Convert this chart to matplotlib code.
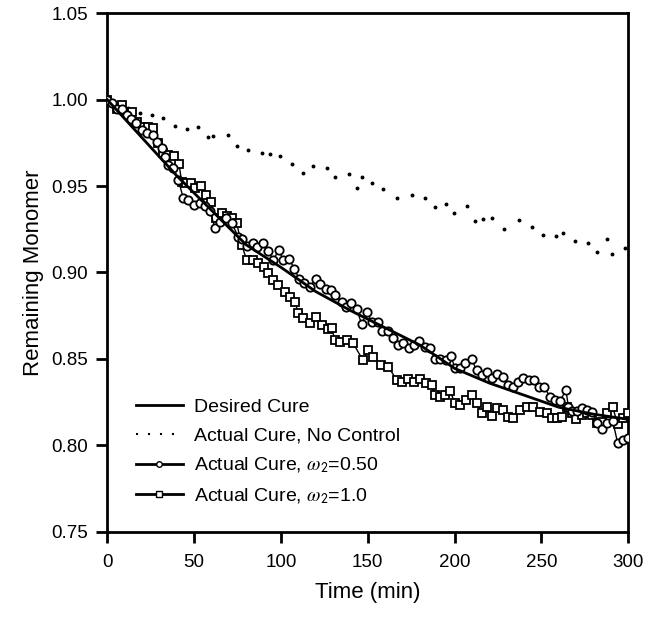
import matplotlib
matplotlib.use("Agg")
import matplotlib.pyplot as plt
from matplotlib.lines import Line2D

plt.rcParams['font.family'] = ['Liberation Sans', 'DejaVu Sans']
plt.rcParams['mathtext.fontset'] = 'stix'

# Desired cure (smooth reference path)
t_desired = [0, 20, 40, 60, 80, 100, 120, 140, 160, 180, 200, 220, 240, 260, 280, 300]
y_desired = [1.000, 0.978, 0.956, 0.936, 0.916, 0.903, 0.889, 0.878, 0.868, 0.858,
             0.8445, 0.836, 0.829, 0.822, 0.818, 0.815]

# Actual cure, no control (dots)
t_noctrl = [0, 6, 12, 18.8, 25.7, 32.1, 39.0, 45.9, 52.2, 58.0, 60.9, 69.5, 74.7, 81.0,
            89.1, 93.7, 99.5, 106.3, 112.7, 118.4, 126.5, 131.1, 139.2, 143.8, 146.7,
            152.4, 158.7, 166.8, 175.4, 182.9, 188.7, 195.0, 199.6, 207.1, 211.7, 216.3,
            221.5, 228.4, 237.0, 244.5, 250.9, 258.3, 262.4, 269.3, 276.8, 281.9, 287.7,
            290.6, 298.1]
y_noctrl = [1.000, 0.997, 0.995, 0.9923, 0.9911, 0.9894, 0.9848, 0.9830, 0.9842, 0.9784,
            0.9790, 0.9796, 0.9732, 0.9709, 0.9692, 0.9686, 0.9674, 0.9628, 0.9576, 0.9616,
            0.9605, 0.9553, 0.9570, 0.9489, 0.9553, 0.9518, 0.9483, 0.9431, 0.9449, 0.9431,
            0.9379, 0.9396, 0.9344, 0.9385, 0.9298, 0.9310, 0.9315, 0.9252, 0.9304, 0.9263,
            0.9217, 0.9211, 0.9229, 0.9182, 0.9171, 0.9119, 0.9194, 0.9107, 0.9142]

# Actual cure, omega2 = 0.50 (circles)
t_w050 = [0, 3, 5.4, 8.6, 11.2, 13.6, 16.5, 19.8, 22.9, 26.5, 28.9, 31.3, 33.2, 35.1, 38.0,
          40.9, 43.8, 46.6, 49.9, 53.4, 56.3, 59.1, 62.0, 64.9, 68.3, 71.6, 75.4, 77.4,
          80.3, 83.7, 86.4, 89.5, 92.7, 95.6, 98.7, 101.3, 104.8, 107.7, 110.6, 113.4,
          116.7, 120.0, 122.5, 125.9, 128.8, 131.1, 135.0, 137.7, 140.6, 143.5, 146.5,
          149.7, 152.2, 155.7, 158.0, 161.8, 164.7, 167.6, 170.5, 173.9, 176.6, 179.7,
          182.9, 185.8, 188.7, 191.6, 195.0, 197.9, 200.2, 203.1, 206.0, 209.8, 212.6,
          215.6, 218.5, 221.3, 224.4, 227.7, 230.7, 233.8, 236.7, 239.4, 242.8, 245.7,
          248.6, 251.7, 254.9, 257.8, 260.8, 264.1, 265.5, 267.6, 270.5, 273.2, 276.1,
          278.9, 282.0, 285.1, 287.8, 291.0, 293.9, 296.8, 300]
y_w050 = [1.000, 0.998, 0.9944, 0.9944, 0.9911, 0.9890, 0.9865, 0.9825, 0.9810, 0.9796,
          0.9755, 0.9719, 0.9669, 0.9622, 0.9603, 0.9535, 0.9429, 0.9420, 0.9391, 0.9400,
          0.9385, 0.9358, 0.9256, 0.9294, 0.9314, 0.9288, 0.9207, 0.9192, 0.9153, 0.9172,
          0.9149, 0.9172, 0.9126, 0.9072, 0.9130, 0.9072, 0.9078, 0.9020, 0.8961, 0.8941,
          0.8918, 0.8961, 0.8932, 0.8903, 0.8899, 0.8870, 0.8831, 0.8803, 0.8826, 0.8789,
          0.8702, 0.8771, 0.8715, 0.8714, 0.8661, 0.8661, 0.8623, 0.8580, 0.8594, 0.8561,
          0.8579, 0.8605, 0.8571, 0.8565, 0.8498, 0.8501, 0.8494, 0.8517, 0.8446, 0.8446,
          0.8475, 0.8498, 0.8436, 0.8407, 0.8427, 0.8390, 0.8410, 0.8394, 0.8349, 0.8339,
          0.8365, 0.8391, 0.8376, 0.8378, 0.8336, 0.8336, 0.8281, 0.8262, 0.8258, 0.8320,
          0.8223, 0.8201, 0.8196, 0.8214, 0.8204, 0.8194, 0.8130, 0.8093, 0.8127, 0.8143,
          0.8012, 0.8031, 0.8040]

# Actual cure, omega2 = 1.0 (squares)
t_w100 = [0, 5.4, 8.6, 11.7, 14.4, 16.9, 20.4, 23.3, 26.1, 29.0, 32.2, 35.1, 38.4, 41.3,
          42.8, 45.3, 48.0, 50.7, 53.8, 56.7, 59.5, 62.6, 65.9, 68.8, 71.6, 74.5, 77.4,
          80.3, 83.7, 86.9, 90.2, 92.7, 95.6, 98.5, 102.3, 105.2, 108.1, 110.0, 112.9,
          116.7, 120.2, 123.5, 127.3, 129.2, 131.1, 134.0, 137.8, 141.6, 147.1, 150.3,
          153.2, 157.6, 161.8, 166.6, 169.5, 173.3, 176.6, 180.1, 183.5, 186.8, 188.7,
          191.6, 194.5, 197.3, 200.2, 203.1, 206.5, 209.8, 212.7, 215.6, 218.5, 221.7,
          224.2, 228.0, 230.9, 233.8, 237.6, 241.5, 245.3, 249.2, 253.0, 255.9, 259.1,
          261.7, 264.5, 267.4, 269.9, 273.2, 276.1, 278.9, 281.8, 284.7, 287.6, 291.0,
          293.9, 296.8, 300]
y_w100 = [1.000, 0.9944, 0.9969, 0.9916, 0.9931, 0.9873, 0.9840, 0.9844, 0.9834, 0.9751,
          0.9693, 0.9680, 0.9676, 0.9628, 0.9525, 0.9516, 0.9520, 0.9487, 0.9501, 0.9448,
          0.9410, 0.9314, 0.9346, 0.9327, 0.9314, 0.9285, 0.9159, 0.9072, 0.9072, 0.9053,
          0.9034, 0.8995, 0.8957, 0.8928, 0.8889, 0.8860, 0.8831, 0.8764, 0.8735, 0.8706,
          0.8741, 0.8696, 0.8671, 0.8677, 0.8609, 0.8600, 0.8609, 0.8590, 0.8494, 0.8552,
          0.8513, 0.8465, 0.8455, 0.8378, 0.8368, 0.8382, 0.8368, 0.8382, 0.8362, 0.8349,
          0.8291, 0.8281, 0.8291, 0.8316, 0.8243, 0.8233, 0.8262, 0.8291, 0.8243, 0.8185,
          0.8223, 0.8170, 0.8214, 0.8204, 0.8166, 0.8156, 0.8204, 0.8223, 0.8223, 0.8194,
          0.8185, 0.8156, 0.8156, 0.8166, 0.8223, 0.8185, 0.8150, 0.8175, 0.8189, 0.8175,
          0.8127, 0.8137, 0.8185, 0.8220, 0.8123, 0.8156, 0.8189]

labels = ["Desired Cure", "Actual Cure, No Control",
          r"Actual Cure, $\omega_{\mathsf{2}}$=0.50", r"Actual Cure, $\omega_{\mathsf{2}}$=1.0"]

fig = plt.figure(figsize=(6.57, 6.17), dpi=100)
ax = fig.add_axes([0.1633, 0.1383, 0.7930, 0.8401])

ax.plot(t_noctrl, y_noctrl, linestyle='None', marker='o', markersize=1.8, color='black', zorder=2)
ax.plot(t_w100, y_w100, color='black', lw=1.0, marker='s', markersize=5.5,
        markerfacecolor='white', markeredgecolor='black', markeredgewidth=1.3, zorder=3)
ax.plot(t_w050, y_w050, color='black', lw=1.0, marker='o', markersize=6,
        markerfacecolor='white', markeredgecolor='black', markeredgewidth=1.3, zorder=4)
ax.plot(t_desired, y_desired, color='black', lw=2.0, zorder=5)

ax.set_xlim(0, 300)
ax.set_ylim(0.75, 1.05)
ax.set_xticks([0, 50, 100, 150, 200, 250, 300])
ax.set_yticks([0.75, 0.80, 0.85, 0.90, 0.95, 1.00, 1.05])
ax.set_yticklabels(["0.75", "0.80", "0.85", "0.90", "0.95", "1.00", "1.05"])
ax.tick_params(axis='both', direction='out', length=8, width=2, labelsize=13.5)
ax.tick_params(axis='x', pad=8)
ax.tick_params(axis='y', pad=6)
for s in ax.spines.values():
    s.set_linewidth(2)

ax.set_xlabel("Time (min)", fontsize=16, labelpad=8)
ax.set_ylabel("Remaining Monomer", fontsize=16, labelpad=5)

handles = [
    Line2D([], [], color='black', lw=2),
    Line2D([], [], color='black', lw=1.5, linestyle=(0, (1, 4.75))),
    Line2D([], [], color='black', lw=2, marker='o', markersize=4,
           markerfacecolor='white', markeredgewidth=1),
    Line2D([], [], color='black', lw=2, marker='s', markersize=4,
           markerfacecolor='white', markeredgewidth=1),
]
ax.legend(handles, labels, loc='upper left', bbox_to_anchor=(0.055, 0.258), frameon=False,
          fontsize=14, handlelength=2.4, handletextpad=0.6, labelspacing=0.58,
          borderpad=0, borderaxespad=0)

fig.savefig("out.png", dpi=100)
